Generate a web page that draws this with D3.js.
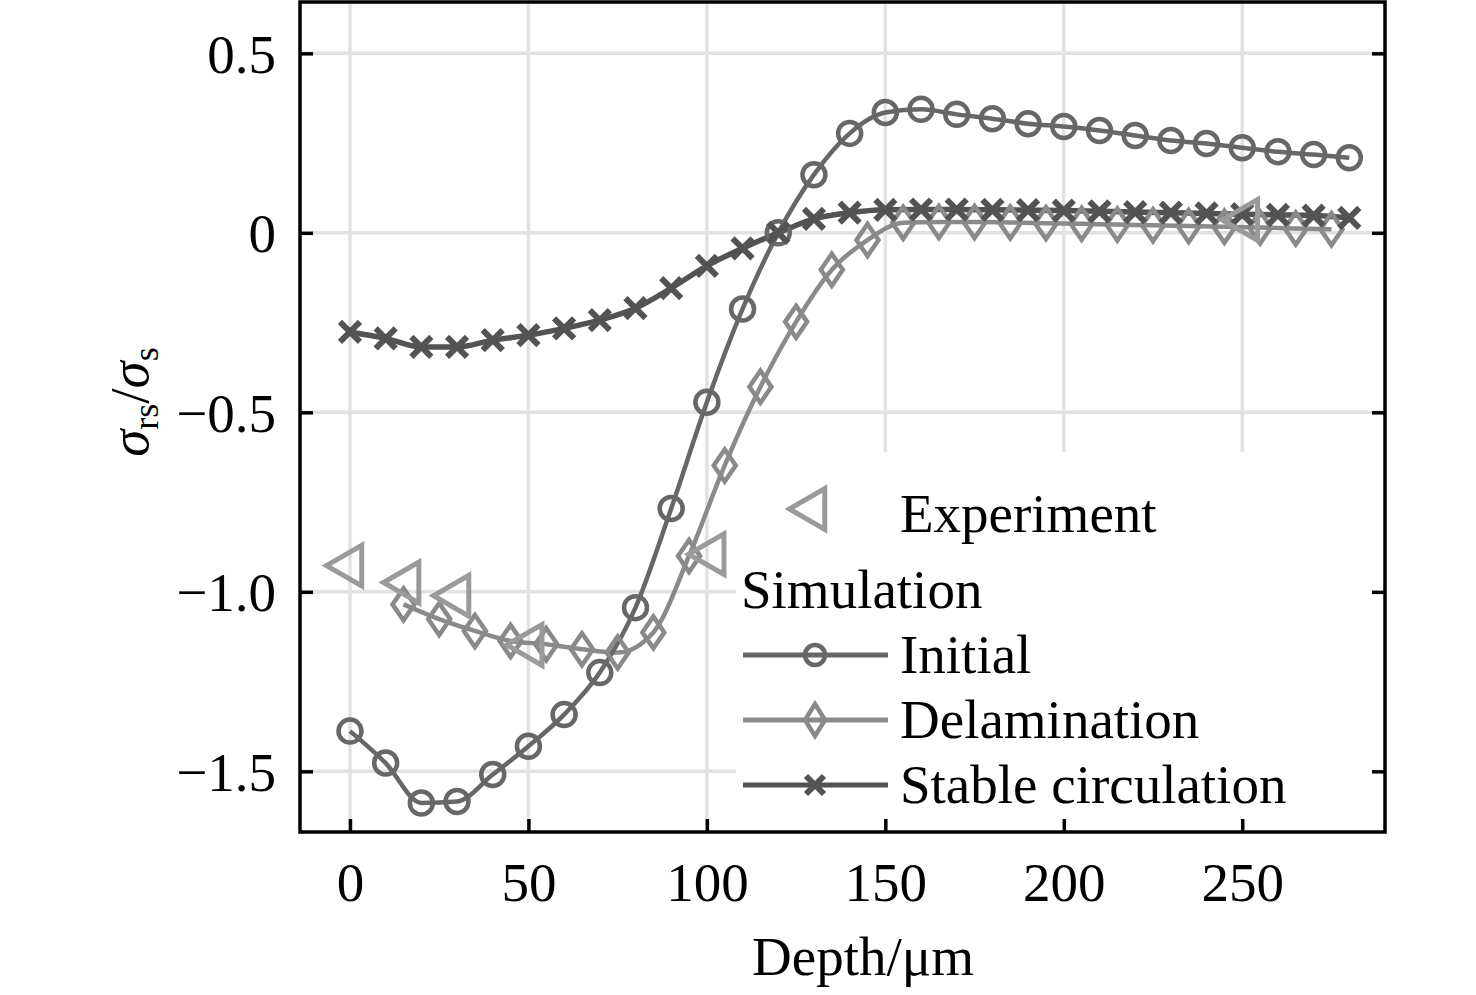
<!DOCTYPE html>
<html>
<head>
<meta charset="utf-8">
<script src="https://cdn.jsdelivr.net/npm/d3@7"></script>
<style>
  body { margin: 0; background: #fff; }
  svg { font-family: "Liberation Serif", "Times New Roman", serif; }
</style>
</head>
<body>
<div id="chart"></div>
<script>
// depth values (um)
var depthSim = [0, 10, 20, 30, 40, 50, 60, 70, 80, 90, 100, 110, 120, 130, 140, 150,
    160, 170, 180, 190, 200, 210, 220, 230, 240, 250, 260, 270, 280];
var depthDelam = [15, 25, 35, 45, 55, 65, 75, 85, 95, 105, 115, 125, 135, 145,
    155, 165, 175, 185, 195, 205, 215, 225, 235, 245, 255, 265, 275];
var depthExp = [0, 16, 30, 50.5, 101.5, 251];

// sigma_rs / sigma_s
var initial = [-1.388, -1.477, -1.588, -1.584, -1.509, -1.430, -1.342, -1.225, -1.044, -0.768,
    -0.472, -0.212, 0.0, 0.162, 0.277, 0.335, 0.344, 0.330, 0.318, 0.304,
    0.296, 0.285, 0.271, 0.257, 0.249, 0.237, 0.226, 0.218, 0.209];
var delamination = [-1.035, -1.076, -1.109, -1.137, -1.146, -1.160, -1.169, -1.113, -0.900, -0.648,
    -0.429, -0.248, -0.103, -0.020, 0.028, 0.030, 0.030, 0.029, 0.027, 0.025,
    0.023, 0.021, 0.019, 0.017, 0.015, 0.012, 0.010];
var stable = [-0.276, -0.294, -0.318, -0.318, -0.299, -0.285, -0.266, -0.243, -0.210, -0.154,
    -0.092, -0.043, 0.0, 0.039, 0.056, 0.064, 0.065, 0.065, 0.064, 0.063,
    0.062, 0.060, 0.058, 0.056, 0.054, 0.052, 0.050, 0.048, 0.042];
var experiment = [-0.927, -0.974, -1.011, -1.148, -0.895, 0.036];

var xTicks = [0, 50, 100, 150, 200, 250];
var yTicks = [0.5, 0, -0.5, -1.0, -1.5];
var yTickLabels = ["0.5", "0", "\u22120.5", "\u22121.0", "\u22121.5"];

var W = 1476, H = 995;
var pLeft = 300, pRight = 1385, pTop = 2, pBottom = 832;
var fontSize = 55;

var cInit = "#676767", cDelam = "#8a8a8a", cStable = "#535353", cExp = "#9a9a9a", cGrid = "#e2e2e2";

var svg = d3.select("#chart").append("svg")
    .attr("width", W)
    .attr("height", H);

var x = d3.scaleLinear().domain([-14, 290]).range([pLeft, pRight]);
var y = d3.scaleLinear().domain([-1.669, 0.643]).range([pBottom, pTop]);

// grid
var grid = svg.append("g");
grid.selectAll(".vg").data(xTicks).enter().append("line")
    .attr("x1", function(d) { return x(d); })
    .attr("x2", function(d) { return x(d); })
    .attr("y1", pTop).attr("y2", pBottom)
    .attr("stroke", cGrid).attr("stroke-width", 3.5);
grid.selectAll(".hg").data(yTicks).enter().append("line")
    .attr("x1", pLeft).attr("x2", pRight)
    .attr("y1", function(d) { return y(d); })
    .attr("y2", function(d) { return y(d); })
    .attr("stroke", cGrid).attr("stroke-width", 3.5);

// legend background hides grid
svg.append("rect")
    .attr("x", 736).attr("y", 452)
    .attr("width", pRight - 736).attr("height", pBottom - 452)
    .attr("fill", "#fff");

// lines
function lineOf(xs, ys) {
    return d3.line()
        .x(function(d, i) { return x(xs[i]); })
        .y(function(d) { return y(d); })
        .curve(d3.curveMonotoneX)(ys);
}

svg.append("path").attr("d", lineOf(depthDelam, delamination))
    .attr("fill", "none").attr("stroke", cDelam).attr("stroke-width", 4.5);
svg.append("path").attr("d", lineOf(depthSim, initial))
    .attr("fill", "none").attr("stroke", cInit).attr("stroke-width", 4.5);
svg.append("path").attr("d", lineOf(depthSim, stable))
    .attr("fill", "none").attr("stroke", cStable).attr("stroke-width", 5.5);

// marker shapes
function diamond(hw, hh) {
    return "M0," + (-hh) + "L" + hw + ",0L0," + hh + "L" + (-hw) + ",0Z";
}
function cross(s) {
    return "M" + (-s) + "," + (-s) + "L" + s + "," + s + "M" + (-s) + "," + s + "L" + s + "," + (-s);
}
var triPath = d3.symbol().type(d3.symbolTriangle).size(720)();

svg.append("g").selectAll("path").data(delamination).enter().append("path")
    .attr("d", diamond(11, 16))
    .attr("transform", function(d, i) { return "translate(" + x(depthDelam[i]) + "," + y(d) + ")"; })
    .attr("fill", "none").attr("stroke", cDelam).attr("stroke-width", 4.5);

svg.append("g").selectAll("circle").data(initial).enter().append("circle")
    .attr("cx", function(d, i) { return x(depthSim[i]); })
    .attr("cy", function(d) { return y(d); })
    .attr("r", 11.5)
    .attr("fill", "none").attr("stroke", cInit).attr("stroke-width", 4.5);

svg.append("g").selectAll("path").data(stable).enter().append("path")
    .attr("d", cross(10))
    .attr("transform", function(d, i) { return "translate(" + x(depthSim[i]) + "," + y(d) + ")"; })
    .attr("fill", "none").attr("stroke", cStable).attr("stroke-width", 6);

svg.append("g").selectAll("path").data(experiment).enter().append("path")
    .attr("d", triPath)
    .attr("transform", function(d, i) { return "translate(" + x(depthExp[i]) + "," + y(d) + ") rotate(-90)"; })
    .attr("fill", "none").attr("stroke", cExp).attr("stroke-width", 5);

// frame
svg.append("rect")
    .attr("x", pLeft).attr("y", pTop)
    .attr("width", pRight - pLeft).attr("height", pBottom - pTop)
    .attr("fill", "none").attr("stroke", "#000").attr("stroke-width", 3.5);

// axes with inward ticks
var xAxis = d3.axisBottom(x).tickValues(xTicks).tickSize(-13).tickPadding(30).tickFormat(d3.format("d"));
var gx = svg.append("g").attr("transform", "translate(0," + pBottom + ")").call(xAxis);
var yAxis = d3.axisLeft(y).tickValues(yTicks).tickSize(-13).tickPadding(24)
    .tickFormat(function(d, i) { return yTickLabels[i]; });
var gy = svg.append("g").attr("transform", "translate(" + pLeft + ",0)").call(yAxis);
var yAxisR = d3.axisRight(y).tickValues(yTicks).tickSize(-13).tickFormat("");
var gyr = svg.append("g").attr("transform", "translate(" + pRight + ",0)").call(yAxisR);

[gx, gy, gyr].forEach(function(g) {
    g.select(".domain").remove();
    g.selectAll(".tick line").attr("stroke", "#000").attr("stroke-width", 3.5);
    g.selectAll(".tick text")
        .attr("fill", "#000")
        .style("font-family", "'Liberation Serif', serif")
        .style("font-size", fontSize + "px");
});
gy.selectAll(".tick text").attr("dy", "0.34em");

// axis titles
svg.append("text")
    .attr("x", 863)
    .attr("y", 975)
    .attr("text-anchor", "middle")
    .style("font-size", fontSize + "px")
    .text("Depth/\u03bcm");

var yl = svg.append("text")
    .attr("transform", "translate(148," + 402 + ") rotate(-90)")
    .attr("text-anchor", "middle")
    .style("font-size", fontSize + "px");
yl.append("tspan").style("font-style", "italic").text("\u03c3");
yl.append("tspan").attr("dy", 10).style("font-size", "36px").text("rs");
yl.append("tspan").attr("dy", -10).text("/");
yl.append("tspan").style("font-style", "italic").text("\u03c3");
yl.append("tspan").attr("dy", 10).style("font-size", "36px").text("s");

// legend
var leg = svg.append("g");
leg.append("path")
    .attr("d", triPath)
    .attr("transform", "translate(813,509) rotate(-90)")
    .attr("fill", "none").attr("stroke", cExp).attr("stroke-width", 5);
leg.append("text").attr("x", 900).attr("y", 532).style("font-size", fontSize + "px").text("Experiment");
leg.append("text").attr("x", 741).attr("y", 608).style("font-size", fontSize + "px").text("Simulation");

var legItems = [
    { name: "Initial", color: cInit, yy: 655, kind: "circle" },
    { name: "Delamination", color: cDelam, yy: 720, kind: "diamond" },
    { name: "Stable circulation", color: cStable, yy: 785, kind: "cross" }
];
legItems.forEach(function(it) {
    leg.append("line")
        .attr("x1", 743).attr("x2", 888)
        .attr("y1", it.yy).attr("y2", it.yy)
        .attr("stroke", it.color).attr("stroke-width", 5);
    var m;
    if (it.kind === "circle") {
        m = leg.append("circle").attr("cx", 815).attr("cy", it.yy).attr("r", 10);
    } else if (it.kind === "diamond") {
        m = leg.append("path").attr("d", diamond(10, 16)).attr("transform", "translate(815," + it.yy + ")");
    } else {
        m = leg.append("path").attr("d", cross(9)).attr("transform", "translate(815," + it.yy + ")");
    }
    m.attr("fill", "none").attr("stroke", it.color).attr("stroke-width", it.kind === "cross" ? 6 : 4.5);
    leg.append("text").attr("x", 900).attr("y", it.yy + 18).style("font-size", fontSize + "px").text(it.name);
});
</script>
</body>
</html>
